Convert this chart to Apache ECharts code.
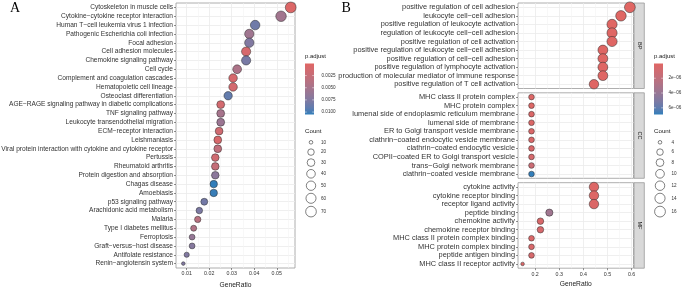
<!DOCTYPE html>
<html><head><meta charset="utf-8">
<script src="https://cdn.jsdelivr.net/npm/echarts@6/dist/echarts.min.js"></script>
<style>html,body{margin:0;padding:0;background:#fff}#c{width:685px;height:288px}</style>
</head><body><div id="c"></div>
<script>
// ---------- DATA ----------
const keggTerms = [
'Cytoskeleton in muscle cells',
'Cytokine−cytokine receptor interaction',
'Human T−cell leukemia virus 1 infection',
'Pathogenic Escherichia coli infection',
'Focal adhesion',
'Cell adhesion molecules',
'Chemokine signaling pathway',
'Cell cycle',
'Complement and coagulation cascades',
'Hematopoietic cell lineage',
'Osteoclast differentiation',
'AGE−RAGE signaling pathway in diabetic complications',
'TNF signaling pathway',
'Leukocyte transendothelial migration',
'ECM−receptor interaction',
'Leishmaniasis',
'Viral protein interaction with cytokine and cytokine receptor',
'Pertussis',
'Rheumatoid arthritis',
'Protein digestion and absorption',
'Chagas disease',
'Amoebiasis',
'p53 signaling pathway',
'Arachidonic acid metabolism',
'Malaria',
'Type I diabetes mellitus',
'Ferroptosis',
'Graft−versus−host disease',
'Antifolate resistance',
'Renin−angiotensin system'];
const keggRatio = [0.0562,0.0519,0.0404,0.0378,0.0378,0.0364,0.0364,0.0324,0.0306,0.0306,0.0284,0.0251,0.0251,0.0251,0.0244,0.0238,0.0238,0.0227,0.0227,0.0227,0.0220,0.0220,0.0178,0.0156,0.0149,0.0131,0.0124,0.0124,0.0100,0.0085];
const keggCount = [72,67,52,49,49,47,47,42,39,39,37,32,32,32,31,31,31,29,29,29,28,28,23,20,19,17,16,16,13,10];
const keggPadj  = [0.0004,0.0053,0.0084,0.0055,0.0075,0.0010,0.0080,0.0045,0.0010,0.0012,0.0090,0.0012,0.0050,0.0058,0.0015,0.0008,0.0030,0.0015,0.0025,0.0068,0.0105,0.0103,0.0082,0.0078,0.0035,0.0042,0.0062,0.0072,0.0075,0.0075];

const bpTerms = ['positive regulation of cell adhesion','leukocyte cell−cell adhesion','positive regulation of leukocyte activation','regulation of leukocyte cell−cell adhesion','positive regulation of cell activation','positive regulation of leukocyte cell−cell adhesion','positive regulation of cell−cell adhesion','positive regulation of lymphocyte activation','production of molecular mediator of immune response','positive regulation of T cell activation'];
const bpRatio = [0.593,0.556,0.519,0.519,0.519,0.481,0.481,0.481,0.481,0.444];
const bpCount = [16,15,14,14,14,13,13,13,13,12];
const bpPadj  = [2e-8,3e-8,4e-8,5e-8,5e-8,6e-8,7e-8,8e-8,9e-8,1e-7];

const ccTerms = ['MHC class II protein complex','MHC protein complex','lumenal side of endoplasmic reticulum membrane','lumenal side of membrane','ER to Golgi transport vesicle membrane','clathrin−coated endocytic vesicle membrane','clathrin−coated endocytic vesicle','COPII−coated ER to Golgi transport vesicle','trans−Golgi network membrane','clathrin−coated vesicle membrane'];
const ccRatio = [0.185,0.185,0.185,0.185,0.185,0.185,0.185,0.185,0.185,0.185];
const ccCount = [5,5,5,5,5,5,5,5,5,5];
const ccPadj  = [2e-7,2e-7,3e-7,3e-7,4e-7,4e-7,5e-7,6e-7,1.3e-6,6.9e-6];

const mfTerms = ['cytokine activity','cytokine receptor binding','receptor ligand activity','peptide binding','chemokine activity','chemokine receptor binding','MHC class II protein complex binding','MHC protein complex binding','peptide antigen binding','MHC class II receptor activity'];
const mfRatio = [0.444,0.444,0.444,0.259,0.222,0.222,0.185,0.185,0.185,0.148];
const mfCount = [12,12,12,7,6,6,5,5,5,4];
const mfPadj  = [2e-7,2e-7,3e-7,3.6e-6,5e-7,6e-7,4e-7,5e-7,6e-7,4e-7];

const keggXTicks = [0.01,0.02,0.03,0.04,0.05];
const keggXMinor = [0.015,0.025,0.035,0.045,0.055];
const goXTicks = [0.2,0.3,0.4,0.5,0.6];
const goXMinor = [0.15,0.25,0.35,0.45,0.55];
const keggPadjTicks = [0.0025,0.005,0.0075,0.01];
const keggPadjLabels = ['0.0025','0.0050','0.0075','0.0100'];
const goPadjTicks = [2e-6,4e-6,6e-6];
const goPadjLabels = ['2e−06','4e−06','6e−06'];
const keggCountTicks = [10,20,30,40,50,60,70];
const goCountTicks = [4,6,8,10,12,14,16];
const facetNames = ['BP','CC','MF'];

// ---------- STYLE ----------
const FONT = 'Liberation Sans, Arial, Helvetica, sans-serif';
const gradStops = ['#E06663','#D26A70','#C46E79','#B47284','#A3758E','#907899','#7B7AA4','#5F7CAF','#327EBA'];
const padjRangeA = [0.00002, 0.0105];
const padjRangeB = [1e-8, 6.9e-6];
function sizeScale(lo, hi){ return v => 3.6 + 7.2*Math.sqrt(Math.max(0,(v-lo)/(hi-lo))); }
const sizeA = sizeScale(10, 72), sizeB = sizeScale(4, 16);
function rows(ratio, terms, count, padj){ return terms.map((t,i)=>[ratio[i], t, count[i], padj[i]]); }

const GRID_LINE = '#EBEBEB', MINOR_LINE = '#F3F3F3', TICK = '#444', LABEL = '#333';
const grids = [
  {left:176, top:3, width:119, height:265},
  {left:518, top:3, width:115.5, height:85.5},
  {left:518, top:92.8, width:115.5, height:85.5},
  {left:518, top:182.7, width:115.5, height:85.5}
].map(g => Object.assign(g, {show:true, borderColor:'#9A9A9A', borderWidth:0.8, backgroundColor:'#fff', containLabel:false, outerBoundsMode:'none'}));

function mainX(gi, min, max, ticks, showAxis, dec){
  return {type:'value', gridIndex:gi, min, max,
    axisLine:{show:false},
    axisTick:{show:showAxis, length:2, customValues:ticks, lineStyle:{color:TICK, width:0.6}},
    axisLabel:{show:showAxis, customValues:ticks, fontSize:5.3, color:LABEL, margin:3.5, fontFamily:FONT, formatter:v=>v.toFixed(dec)},
    splitLine:{show:true, lineStyle:{color:GRID_LINE, width:0.8}},
    name: showAxis ? 'GeneRatio' : '', nameLocation:'middle', nameGap:12,
    nameTextStyle:{fontSize:6.7, color:'#1A1A1A', fontFamily:FONT}};
}
function minorX(gi, min, max, ticks){
  return {type:'value', gridIndex:gi, min, max, position:'bottom',
    axisLine:{show:false}, axisTick:{show:false, customValues:ticks}, axisLabel:{show:false, customValues:ticks},
    splitLine:{show:true, lineStyle:{color:MINOR_LINE, width:0.6}}};
}
function catY(gi, data, fs){
  return {type:'category', gridIndex:gi, data, inverse:true, boundaryGap:true,
    axisLine:{show:false},
    axisTick:{show:true, alignWithLabel:true, interval:0, length:2, lineStyle:{color:TICK, width:0.6}},
    axisLabel:{interval:0, fontSize:fs, color:LABEL, margin:3, fontFamily:FONT},
    splitLine:{show:true, alignWithLabel:true, interval:0, lineStyle:{color:GRID_LINE, width:0.8}}};
}
const A_MIN = 0.00525, A_MAX = 0.0581, B_MIN = 0.129, B_MAX = 0.608;
const xAxes = [
  mainX(0, A_MIN, A_MAX, keggXTicks, true, 2), minorX(0, A_MIN, A_MAX, keggXMinor),
  mainX(1, B_MIN, B_MAX, goXTicks, false, 1), minorX(1, B_MIN, B_MAX, goXMinor),
  mainX(2, B_MIN, B_MAX, goXTicks, false, 1), minorX(2, B_MIN, B_MAX, goXMinor),
  mainX(3, B_MIN, B_MAX, goXTicks, true, 1), minorX(3, B_MIN, B_MAX, goXMinor)
];
const yAxes = [catY(0, keggTerms, 6.6), catY(1, bpTerms, 7.4), catY(2, ccTerms, 7.4), catY(3, mfTerms, 7.4)];

function dotSeries(xi, yi, data, sz){
  return {type:'scatter', xAxisIndex:xi, yAxisIndex:yi, data, encode:{x:0, y:1},
    symbolSize: v => sz(v[2]),
    itemStyle:{borderColor:'#2B2B2B', borderWidth:0.5, opacity:1},
    emphasis:{disabled:true}, silent:true};
}
const series = [
  dotSeries(0, 0, rows(keggRatio, keggTerms, keggCount, keggPadj), sizeA),
  dotSeries(2, 1, rows(bpRatio, bpTerms, bpCount, bpPadj), sizeB),
  dotSeries(4, 2, rows(ccRatio, ccTerms, ccCount, ccPadj), sizeB),
  dotSeries(6, 3, rows(mfRatio, mfTerms, mfCount, mfPadj), sizeB)
];

// ---------- GRAPHIC (legends, strips, panel letters) ----------
const graphic = [];
function txt(x, y, text, size, color, align, valign, extra){
  graphic.push(Object.assign({type:'text', x, y, silent:true,
    style:{text, fontSize:size, fontFamily:FONT, fill:color, align:align||'left', verticalAlign:valign||'middle'}}, extra||{}));
}
const grad = {type:'linear', x:0, y:0, x2:0, y2:1,
  colorStops: gradStops.map((c,i)=>({offset:i/(gradStops.length-1), color:c}))};

function legend(x0, range, ticks, labels, counts, sz, labelX, countLabelX){
  const barTop = 63.5, barH = 51, barW = 9;
  txt(x0, 56, 'p.adjust', 6, '#1A1A1A');
  graphic.push({type:'rect', silent:true, shape:{x:x0, y:barTop, width:barW, height:barH}, style:{fill:grad}});
  ticks.forEach((v,i)=>{
    const y = barTop + (v - range[0])/(range[1]-range[0])*barH;
    graphic.push({type:'line', silent:true, shape:{x1:x0, y1:y, x2:x0+1.8, y2:y}, style:{stroke:'#fff', lineWidth:0.5}});
    graphic.push({type:'line', silent:true, shape:{x1:x0+barW-1.8, y1:y, x2:x0+barW, y2:y}, style:{stroke:'#fff', lineWidth:0.5}});
    txt(labelX, y, labels[i], 4.6, LABEL);
  });
  txt(x0, 131, 'Count', 6.2, '#1A1A1A');
  let y = 142.3;
  counts.forEach((c,i)=>{
    graphic.push({type:'circle', silent:true, shape:{cx:x0+6, cy:y, r:sz(c)/2}, style:{fill:'#fff', stroke:'#2B2B2B', lineWidth:0.6}});
    txt(countLabelX, y, String(c), 4.6, LABEL);
    y += 9.8 + 0.7*i;
  });
}
legend(305, padjRangeA, keggPadjTicks, keggPadjLabels, keggCountTicks, sizeA, 321.5, 321);
legend(654, padjRangeB, goPadjTicks, goPadjLabels, goCountTicks, sizeB, 668.5, 671.5);

// facet strips
[1,2,3].forEach((gi,k)=>{
  const g = grids[gi];
  const x = g.left + g.width + 0.5;
  graphic.push({type:'rect', silent:true, shape:{x, y:g.top, width:10.3, height:g.height}, style:{fill:'#D9D9D9', stroke:'#9A9A9A', lineWidth:0.8}});
  txt(x + 5.15, g.top + g.height/2, facetNames[k], 5.5, '#1A1A1A', 'center', 'middle', {rotation:-Math.PI/2});
});
// panel letters
graphic.push({type:'text', x:10, y:1.5, silent:true, style:{text:'A', fontSize:14, fontFamily:'Liberation Serif, Times New Roman, serif', fill:'#000', verticalAlign:'top'}});
graphic.push({type:'text', x:341.5, y:1.5, silent:true, style:{text:'B', fontSize:14, fontFamily:'Liberation Serif, Times New Roman, serif', fill:'#000', verticalAlign:'top'}});

const option = {
  animation:false,
  textStyle:{fontFamily:FONT},
  grid: grids,
  xAxis: xAxes,
  yAxis: yAxes,
  visualMap:[
    {type:'continuous', show:false, seriesIndex:0, dimension:3, min:padjRangeA[0], max:padjRangeA[1], inRange:{color:gradStops}},
    {type:'continuous', show:false, seriesIndex:[1,2,3], dimension:3, min:padjRangeB[0], max:padjRangeB[1], inRange:{color:gradStops}}
  ],
  series,
  graphic
};
const chart = echarts.init(document.getElementById('c'), null, {renderer:'canvas', width:685, height:288});
chart.setOption(option);
</script>
</body></html>
